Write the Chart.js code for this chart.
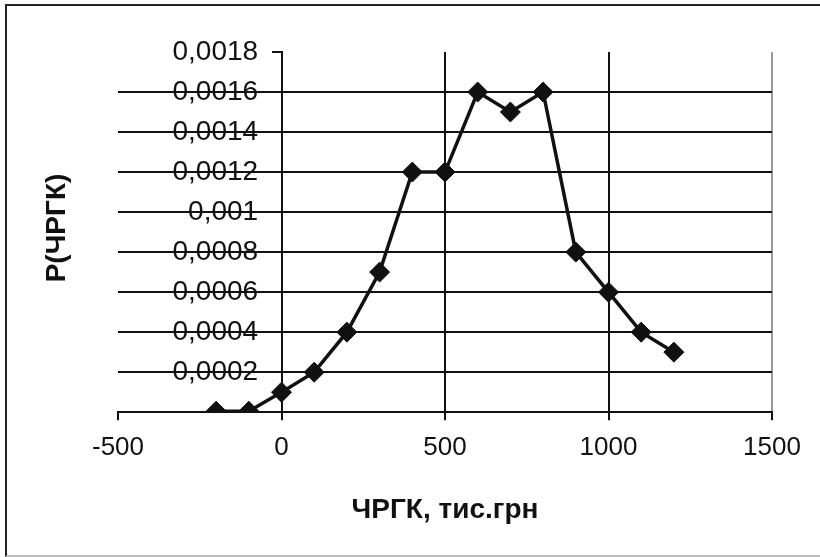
<!DOCTYPE html>
<html>
<head>
<meta charset="utf-8">
<script src="https://cdn.jsdelivr.net/npm/chart.js@4"></script>
<style>
  html, body { margin: 0; padding: 0; background: #fff; }
  #wrap { position: relative; width: 820px; height: 557px; overflow: hidden; }
  #frame {
    position: absolute; left: 5px; top: 4px; width: 830px; height: 549px;
    border-left: 2px solid #222; border-top: 2px solid #222; border-bottom: 2px solid #bbb;
  }
  canvas { position: absolute; left: 0; top: 0; }
</style>
</head>
<body>
<div id="wrap">
  <div id="frame"></div>
  <canvas id="chart" width="820" height="557"></canvas>
</div>
<script>
// values
const xValues = [-200, -100, 0, 100, 200, 300, 400, 500, 600, 700, 800, 900, 1000, 1100, 1200];
const pValues = [0.000005, 0.000005, 0.0001, 0.0002, 0.0004, 0.0007, 0.0012, 0.0012, 0.0016, 0.0015, 0.0016, 0.0008, 0.0006, 0.0004, 0.0003];
const xTitle = "ЧРГК, тис.грн";
const yTitle = "P(ЧРГК)";

const font = "'Liberation Sans', Arial, sans-serif";
const ink = "#111";

// y axis title sits at the far left, away from the crossing axis
const yTitlePlugin = {
    id: "yTitle",
    afterDraw(chart) {
        const ctx = chart.ctx;
        ctx.save();
        ctx.translate(57, 228);
        ctx.rotate(-Math.PI / 2);
        ctx.font = "bold 28px " + font;
        ctx.fillStyle = ink;
        ctx.textAlign = "center";
        ctx.textBaseline = "middle";
        ctx.fillText(yTitle, 0, 0);
        ctx.restore();
    }
};

const points = xValues.map((x, i) => ({ x: x, y: pValues[i] }));

new Chart(document.getElementById("chart").getContext("2d"), {
    type: "line",
    data: {
        datasets: [{
            data: points,
            borderColor: ink,
            borderWidth: 3.5,
            tension: 0,
            pointStyle: "rectRot",
            pointRadius: 10,
            pointHoverRadius: 10,
            pointBackgroundColor: ink,
            pointBorderColor: ink,
            pointBorderWidth: 1
        }]
    },
    options: {
        responsive: false,
        animation: false,
        layout: { padding: { left: 118, right: 48, top: 52, bottom: 30 } },
        plugins: { legend: { display: false }, tooltip: { enabled: false } },
        scales: {
            x: {
                type: "linear",
                min: -500,
                max: 1500,
                ticks: {
                    stepSize: 500,
                    color: ink,
                    padding: 12,
                    font: { family: font, size: 26 },
                    callback: (v) => String(v)
                },
                grid: {
                    color: (c) => c.tick.value === -500 ? "transparent" : (c.tick.value === 1500 ? "#999" : ink),
                    lineWidth: 2,
                    tickColor: ink,
                    tickLength: 8
                },
                border: { color: ink, width: 2 },
                title: {
                    display: true,
                    text: xTitle,
                    color: ink,
                    padding: { top: 18, bottom: 0 },
                    font: { family: font, size: 28, weight: "bold" }
                }
            },
            y: {
                type: "linear",
                position: { x: 0 },
                min: 0,
                max: 0.0018,
                ticks: {
                    stepSize: 0.0002,
                    color: ink,
                    font: { family: font, size: 28 },
                    // the crossing axis ignores tick padding, so keep a gap with spaces
                    callback: (v) => v === 0 ? "" : v.toFixed(4).replace(/0+$/, "").replace(".", ",") + "   "
                },
                grid: {
                    color: (c) => c.tick.value >= 0.0018 - 1e-9 ? "transparent" : ink,
                    lineWidth: 2,
                    tickColor: ink,
                    tickLength: 9
                },
                border: { color: ink, width: 2 }
            }
        }
    },
    plugins: [yTitlePlugin]
});
</script>
</body>
</html>
